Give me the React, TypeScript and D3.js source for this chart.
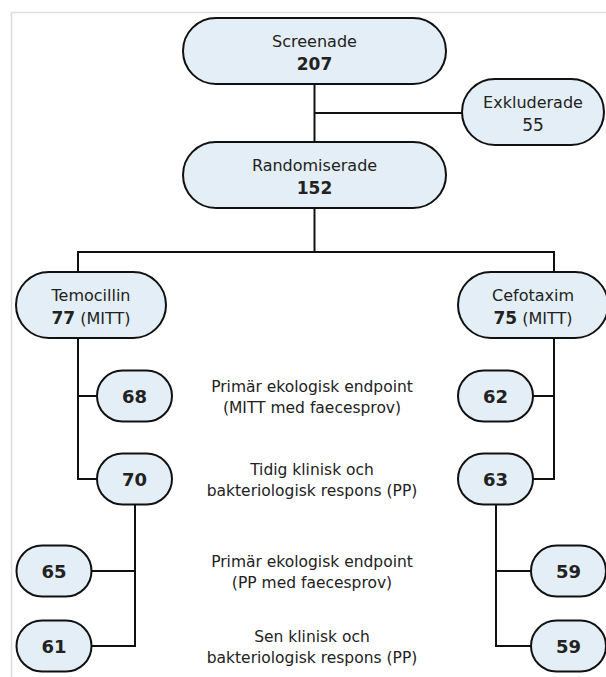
import React from "react";
import * as d3 from "d3";

// ---- data ----
const nodeIds = ["screen", "excl", "rand", "temo", "cefo", "t1", "t2", "t3", "t4", "c1", "c2", "c3", "c4"];
const nodeLabels = ["Screenade", "Exkluderade", "Randomiserade", "Temocillin", "Cefotaxim", "", "", "", "", "", "", "", ""];
const nodeValues = ["207", "55", "152", "77", "75", "68", "70", "65", "61", "62", "63", "59", "59"];
const nodeSuffix = ["", "", "", " (MITT)", " (MITT)", "", "", "", "", "", "", "", ""];
const valueBold = [true, false, true, true, true, true, true, true, true, true, true, true, true];
const nodeRows = ["r0", "rx", "r1", "r2", "r2", "r3", "r4", "r5", "r6", "r3", "r4", "r5", "r6"];
const nodeCols = ["mid", "exc", "mid", "armL", "armR", "inL", "inL", "outL", "outL", "inR", "inR", "outR", "outR"];
const nodeKinds = ["big", "exc", "big", "arm", "arm", "small", "small", "small", "small", "small", "small", "small", "small"];

const midLabels = [
  ["Primär ekologisk endpoint", "(MITT med faecesprov)"],
  ["Tidig klinisk och", "bakteriologisk respons (PP)"],
  ["Primär ekologisk endpoint", "(PP med faecesprov)"],
  ["Sen klinisk och", "bakteriologisk respons (PP)"],
];
const midRows = ["r3", "r4", "r5", "r6"];

// ---- layout ----
const W = 606, H = 677;
const rowKeys = ["r0", "rx", "r1", "branch", "r2", "r3", "r4", "r5", "r6"];
const rowY = d3.scaleOrdinal<string, number>().domain(rowKeys).range([51, 112, 175, 252, 305, 396, 479, 571, 646]);
const colKeys = ["mid", "exc", "armL", "armR", "inL", "inR", "outL", "outR", "trunkL", "trunkR", "subL", "subR", "label"];
const colX = d3.scaleOrdinal<string, number>().domain(colKeys).range([314.5, 533, 91, 533, 134.5, 495.5, 54, 568.5, 78, 554, 135, 496, 312]);
const sizes: Record<string, [number, number]> = {
  big: [263, 66], exc: [142, 66], arm: [150, 66], small: [75, 51],
};

const FONT = "'DejaVu Sans', Verdana, sans-serif";
const FILL = "#e3eef6";
const TEXT = "#222";

function box(i: number) {
  const id = nodeIds[i];
  const [w, h] = sizes[nodeKinds[i]];
  const cx = colX(nodeCols[i]);
  const cy = rowY(nodeRows[i]);
  return { id, x: cx - w / 2, y: cy - h / 2, w, h, cx, cy };
}

export default function App() {
  const boxes = nodeIds.map((_, i) => box(i));
  const B = (id: string) => boxes[nodeIds.indexOf(id)];
  const line = d3.line<[number, number]>();
  const sc = B("screen"), ra = B("rand"), ex = B("excl");
  const te = B("temo"), ce = B("cefo");
  const t1 = B("t1"), t2 = B("t2"), t3 = B("t3"), t4 = B("t4");
  const c1 = B("c1"), c2 = B("c2"), c3 = B("c3"), c4 = B("c4");
  const bY = rowY("branch");
  const tL = colX("trunkL"), tR = colX("trunkR"), sL = colX("subL"), sR = colX("subR");
  const midJ = (sc.y + sc.h + ra.y) / 2;
  const paths: [number, number][][] = [
    [[sc.cx, sc.y + sc.h], [sc.cx, ra.y]],
    [[sc.cx, midJ], [ex.x, midJ]],
    [[ra.cx, ra.y + ra.h], [ra.cx, bY]],
    [[tL, te.y], [tL, bY], [tR, bY], [tR, ce.y]],
    [[tL, te.y + te.h], [tL, t2.cy], [t2.x, t2.cy]],
    [[tL, t1.cy], [t1.x, t1.cy]],
    [[tR, ce.y + ce.h], [tR, c2.cy], [c2.x + c2.w, c2.cy]],
    [[tR, c1.cy], [c1.x + c1.w, c1.cy]],
    [[sL, t2.y + t2.h], [sL, t4.cy], [t4.x + t4.w, t4.cy]],
    [[sL, t3.cy], [t3.x + t3.w, t3.cy]],
    [[sR, c2.y + c2.h], [sR, c4.cy], [c4.x, c4.cy]],
    [[sR, c3.cy], [c3.x, c3.cy]],
  ];
  return (
    <svg width={W} height={H} style={{ position: "fixed", left: 0, top: 0, background: "#fff" }} fontFamily={FONT}>
      <rect x={0} y={0} width={W} height={H} fill="#fff" />
      <path d={line([[11.5, H], [11.5, 12.5], [W, 12.5]]) || ""} fill="none" stroke="#dcdcdc" strokeWidth={1.5} />
      {paths.map((p, i) => (
        <path key={i} d={line(p) || ""} fill="none" stroke="#111" strokeWidth={2} />
      ))}
      {boxes.map((b, i) => {
        const hasLabel = nodeLabels[i] !== "";
        return (
          <g key={b.id}>
            <rect x={b.x} y={b.y} width={b.w} height={b.h} rx={b.h / 2} ry={b.h / 2} fill={FILL} stroke="#111" strokeWidth={2} />
            {hasLabel ? (
              <>
                <text x={b.cx} y={b.cy - 4} textAnchor="middle" fontSize={16} fill={TEXT}>{nodeLabels[i]}</text>
                <text x={b.cx} y={b.cy + 19} textAnchor="middle" fontSize={16} fill={TEXT}>
                  <tspan fontWeight={valueBold[i] ? "bold" : "normal"} fontSize={valueBold[i] ? 17 : 17}>{nodeValues[i]}</tspan>
                  {nodeSuffix[i] ? <tspan>{nodeSuffix[i]}</tspan> : null}
                </text>
              </>
            ) : (
              <text x={b.cx} y={b.cy + 6.5} textAnchor="middle" fontSize={18} fontWeight="bold" fill={TEXT}>{nodeValues[i]}</text>
            )}
          </g>
        );
      })}
      {midLabels.map((lines, i) => {
        const cy = rowY(midRows[i]);
        return (
          <g key={i}>
            {lines.map((l, j) => (
              <text key={j} x={colX("label")} y={cy - 4 + j * 21} textAnchor="middle" fontSize={15.5} fill={TEXT}>{l}</text>
            ))}
          </g>
        );
      })}
    </svg>
  );
}
